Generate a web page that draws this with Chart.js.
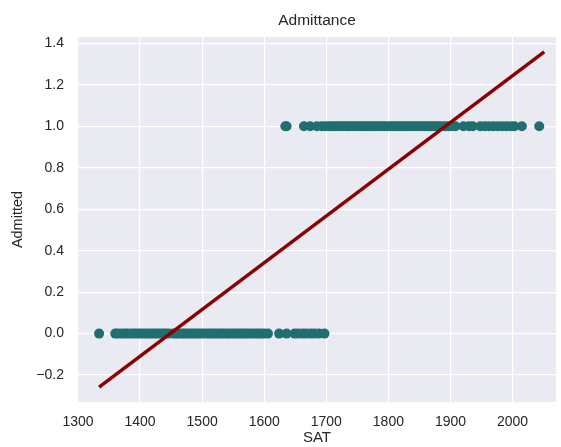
<!DOCTYPE html>
<html>
<head>
<meta charset="utf-8">
<script src="https://cdn.jsdelivr.net/npm/chart.js@4/dist/chart.umd.min.js"></script>
<style>
  html, body { margin: 0; padding: 0; background: #fff; }
  #wrap { width: 561px; height: 447px; }
</style>
</head>
<body>
<div id="wrap"><canvas id="myChart"></canvas></div>
<script>
// SAT scores of students who were not admitted (Admitted = 0)
var satRejected = [1334, 1360, 1364, 1370, 1375, 1379, 1385, 1390, 1395, 1399, 1404, 1409,
    1413, 1418, 1423, 1427, 1432, 1437, 1441, 1446, 1453, 1458, 1462, 1467, 1471, 1476,
    1480, 1485, 1489, 1494, 1498, 1503, 1508, 1512, 1517, 1521, 1526, 1531, 1535, 1540,
    1544, 1549, 1553, 1558, 1563, 1567, 1572, 1576, 1581, 1586, 1590, 1595, 1600, 1606,
    1624, 1636, 1649, 1655, 1662, 1668, 1675, 1681, 1688, 1697];
// SAT scores of students who were admitted (Admitted = 1)
var satAdmitted = [1634, 1636, 1664, 1674, 1685, 1693, 1699, 1704, 1709, 1714, 1718, 1723,
    1728, 1733, 1737, 1742, 1747, 1751, 1756, 1760, 1765, 1770, 1775, 1779, 1784, 1789,
    1793, 1798, 1803, 1807, 1812, 1817, 1821, 1826, 1831, 1835, 1840, 1845, 1850, 1854,
    1859, 1864, 1868, 1873, 1878, 1882, 1887, 1892, 1897, 1902, 1908, 1921, 1930, 1936,
    1948, 1955, 1962, 1969, 1976, 1983, 1990, 1997, 2003, 2015, 2043];
// linear fit drawn over the points
var fitX = [1334, 2051];
var fitY = [-0.258, 1.359];

var xTicks = [1300, 1400, 1500, 1600, 1700, 1800, 1900, 2000];
var yTicks = [-0.2, 0.0, 0.2, 0.4, 0.6, 0.8, 1.0, 1.2, 1.4];

var pontos = [];
satRejected.forEach(function (s) { pontos.push({x: s, y: 0}); });
satAdmitted.forEach(function (s) { pontos.push({x: s, y: 1}); });
var reta = fitX.map(function (x, i) { return {x: x, y: fitY[i]}; });

var txt = "#262626";
var fonte = "'Liberation Sans', Arial, sans-serif";

// seaborn-like grey panel behind the plot
var fundo = {
    id: 'fundo',
    beforeDraw: function (chart) {
        var a = chart.chartArea, c = chart.ctx;
        c.save();
        c.fillStyle = "#eaeaf2";
        c.fillRect(a.left, a.top, a.right - a.left, a.bottom - a.top);
        c.restore();
    }
};

var ctx = document.getElementById("myChart").getContext("2d");
var myChart = new Chart(ctx, {
    type: 'scatter',
    data: {
        datasets: [
            {
                label: "Admitted",
                data: pontos,
                backgroundColor: "#216e6e",
                borderWidth: 0,
                pointRadius: 5,
                order: 1
            },
            {
                type: 'line',
                label: "Fit",
                data: reta,
                borderColor: "#8b0000",
                borderWidth: 3.4,
                pointRadius: 0,
                fill: false,
                order: 0
            }
        ]
    },
    options: {
        responsive: true,
        maintainAspectRatio: false,
        animation: false,
        layout: { padding: { left: 0, right: 0, top: 0, bottom: 0 } },
        plugins: {
            legend: { display: false },
            tooltip: { enabled: false },
            title: {
                display: true,
                fullSize: false,
                text: "Admittance",
                color: txt,
                font: { family: fonte, size: 15.5, weight: 'normal', lineHeight: 1.2 },
                padding: { top: 11.7, bottom: 6.7 }
            }
        },
        scales: {
            x: {
                type: 'linear',
                min: 1300,
                max: 2070,
                afterBuildTicks: function (s) { s.ticks = xTicks.map(function (v) { return {value: v}; }); },
                afterFit: function (s) { s.height = 45; },
                grid: { color: "#ffffff", lineWidth: 1.2, drawTicks: false },
                border: { display: false },
                ticks: {
                    color: txt, padding: 12, font: { family: fonte, size: 14 }, maxRotation: 0,
                    callback: function (v) { return String(v); }
                },
                title: { display: true, text: "SAT", color: txt, padding: 0, font: { family: fonte, size: 15 } }
            },
            y: {
                type: 'linear',
                min: -0.33,
                max: 1.431,
                afterBuildTicks: function (s) { s.ticks = yTicks.map(function (v) { return {value: v}; }); },
                afterFit: function (s) { s.width = 78; },
                grid: { color: "#ffffff", lineWidth: 1.2, drawTicks: false },
                border: { display: false },
                ticks: {
                    color: txt, padding: 14, font: { family: fonte, size: 14 },
                    callback: function (v) { return Number(v).toFixed(1).replace('-', '\u2212'); }
                },
                title: { display: true, text: "Admitted", color: txt, padding: { top: 9, bottom: 0 }, font: { family: fonte, size: 14.5 } }
            }
        }
    },
    plugins: [fundo]
});
</script>
</body>
</html>
